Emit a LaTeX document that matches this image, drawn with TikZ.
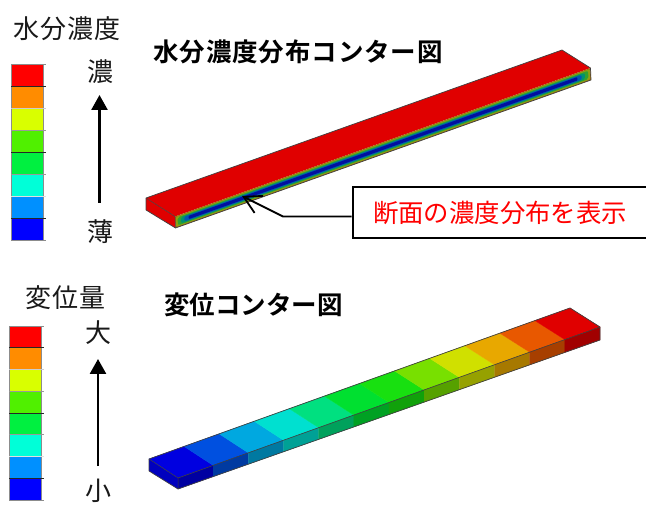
\documentclass[tikz,border=0pt]{standalone}
\usepackage{fontspec}
\usetikzlibrary{arrows.meta,calc}
\setmainfont{Noto Sans CJK JP}[BoldFont={Noto Sans CJK JP Bold}]
\definecolor{leg1}{HTML}{0000FF}
\definecolor{leg2}{HTML}{0090FF}
\definecolor{leg3}{HTML}{00FFD8}
\definecolor{leg4}{HTML}{00F040}
\definecolor{leg5}{HTML}{50F000}
\definecolor{leg6}{HTML}{D9FF00}
\definecolor{leg7}{HTML}{FF8C00}
\definecolor{leg8}{HTML}{FF0000}
\definecolor{seg1}{HTML}{0000E0}
\definecolor{seg2}{HTML}{0050E0}
\definecolor{seg3}{HTML}{00A8E0}
\definecolor{seg4}{HTML}{00E0D0}
\definecolor{seg5}{HTML}{00E080}
\definecolor{seg6}{HTML}{00E030}
\definecolor{seg7}{HTML}{18E010}
\definecolor{seg8}{HTML}{78E000}
\definecolor{seg9}{HTML}{D0E000}
\definecolor{seg10}{HTML}{E8A800}
\definecolor{seg11}{HTML}{E85800}
\definecolor{seg12}{HTML}{E00000}
\definecolor{beamred}{HTML}{E00000}
\definecolor{lay1}{HTML}{A06A10}
\definecolor{lay2}{HTML}{8FA010}
\definecolor{lay3}{HTML}{30A030}
\definecolor{lay4}{HTML}{009070}
\definecolor{lay5}{HTML}{0058B0}
\definecolor{lay6}{HTML}{0010A0}
\tikzset{
  legtext/.style={font=\fontsize{26}{26}\selectfont,text=black!90,inner sep=0pt},
  legspaced/.style={font=\fontsize{26}{26}\selectfont\addfontfeature{LetterSpace=4.5},text=black!90,inner sep=0pt},
  title/.style={font=\fontsize{25.5}{25.5}\selectfont\bfseries,text=black,inner sep=0pt},
  uparrow/.style={line width=2.6pt,-{Triangle[length=15pt,width=16pt]}},
  beamedge/.style={draw=black!75,line width=0.7pt,line join=round},
}
\newcommand{\legendbar}[3]{% x, top y, step
  \foreach \c [count=\i from 0] in {8,7,6,5,4,3,2,1}{
    \fill[leg\c] (#1,{#2+\i*#3}) rectangle (#1+32,{#2+(\i+1)*#3});
  }
  \draw[black!45,line width=0.8pt] (#1,#2) rectangle (#1+32,{#2+8*#3});
  \foreach \k [count=\i from 0] in {45,85,20,40,85,40,12,85,45}{
    \draw[black!\k,line width=0.7pt] (#1,{#2+\i*#3}) -- (#1+35,{#2+\i*#3});
  }
}
% a stripe of the beam's front face: t0, t1 along the length, s0, s1 across
\newcommand{\stripe}[6]{%
  \fill[#1,rounded corners=#6]
    ($($(mB)!#2!(mC)$)!#4!($(mE)!#2!(mF)$)$) --
    ($($(mB)!#3!(mC)$)!#4!($(mE)!#3!(mF)$)$) --
    ($($(mB)!#3!(mC)$)!#5!($(mE)!#3!(mF)$)$) --
    ($($(mB)!#2!(mC)$)!#5!($(mE)!#2!(mF)$)$) -- cycle;
}
\begin{document}
\begin{tikzpicture}[x=1pt,y=-1pt]
\useasboundingbox (0,0) rectangle (646,505);
% legends
\legendbar{11}{64}{22}
\legendbar{9}{326}{21.75}
\node[legspaced] (h1) at (67,29) {水分濃度};
\node[legspaced] (h2) at (65.5,298) {変位量};
\node[legtext] (hi1) at (100.5,71.5) {濃};
\node[legtext] (lo1) at (100.5,232) {薄};
\node[legtext] (hi2) at (98,333) {大};
\node[legtext] (lo2) at (98,491) {小};
\coordinate (a1s) at (99.5,203); \coordinate (a1e) at (99.5,95);
\coordinate (a2s) at (98,466); \coordinate (a2e) at (98,359);
\draw[uparrow] (a1s) -- (a1e);
\draw[uparrow] (a2s) -- (a2e);
\node[title,font=\fontsize{25.5}{25.5}\selectfont\bfseries\addfontfeature{LetterSpace=3.5}] (t1) at (298,52) {水分濃度分布コンター図};
\node[title] (t2) at (253.5,305) {変位コンター図};
% moisture beam
\coordinate (mA) at (146,198); \coordinate (mB) at (175,216.5);
\coordinate (mC) at (590.5,68); \coordinate (mD) at (562,50);
\coordinate (mE) at (175.5,228); \coordinate (mF) at (591,80);
\coordinate (mG) at (146,210);
\fill[beamred] (mA) -- (mB) -- (mC) -- (mD) -- cycle;
\fill[beamred] (mA) -- (mB) -- (mE) -- (mG) -- cycle;
\stripe{lay1}{0}{1}{0}{1}{0pt}
\stripe{lay2}{0.002}{0.998}{0.07}{0.93}{1pt}
\stripe{lay3}{0.006}{0.994}{0.15}{0.85}{2pt}
\stripe{lay4}{0.014}{0.986}{0.23}{0.77}{2pt}
\stripe{lay5}{0.022}{0.978}{0.29}{0.71}{1.5pt}
\stripe{lay6}{0.032}{0.968}{0.36}{0.64}{1pt}
\draw[beamedge] (mA) -- (mD) -- (mC) -- (mF) -- (mE) -- (mG) -- cycle;
\draw[beamedge,line width=.5pt] (mA) -- (mB) -- (mE);
% callout
\node[draw=black,line width=2pt,fill=white,minimum width=297pt,minimum height=51pt,inner sep=0pt] (box) at (501,212.5) {};
\node[inner sep=0pt,text=red,font=\fontsize{25.4}{25.4}\selectfont] (boxtext) at (500,213) {断面の濃度分布を表示};
\coordinate (tip) at (242,196);
\coordinate (bend) at (283,216.5);
\draw[line width=1.8pt,-{Straight Barb[length=17pt,width=19pt,line width=1.8pt]}] (box.west |- bend) -- (bend) -- (tip);
% displacement beam
\coordinate (dA) at (149,459); \coordinate (dB) at (178,478);
\coordinate (dC) at (600,327); \coordinate (dD) at (570,308);
\coordinate (dE) at (178,489); \coordinate (dF) at (600,340);
\coordinate (dG) at (149,471);
\foreach \i [evaluate=\i as \j using int(\i+1)] in {0,...,11}{
  \pgfmathsetmacro{\ta}{\i/12}
  \pgfmathsetmacro{\tb}{(\i+1)/12}
  \filldraw[seg\j,line width=.3pt] ($(dA)!\ta!(dD)$) -- ($(dA)!\tb!(dD)$) -- ($(dB)!\tb!(dC)$) -- ($(dB)!\ta!(dC)$) -- cycle;
  \filldraw[seg\j!72!black,line width=.3pt] ($(dB)!\ta!(dC)$) -- ($(dB)!\tb!(dC)$) -- ($(dE)!\tb!(dF)$) -- ($(dE)!\ta!(dF)$) -- cycle;
}
\fill[seg1!85!black] (dA) -- (dB) -- (dE) -- (dG) -- cycle;
\draw[beamedge] (dA) -- (dD) -- (dC) -- (dF) -- (dE) -- (dG) -- cycle;
\draw[beamedge,line width=.5pt] (dA) -- (dB) -- (dE);
\draw[beamedge,line width=.6pt] (dB) -- (dC);
\end{tikzpicture}
\end{document}
